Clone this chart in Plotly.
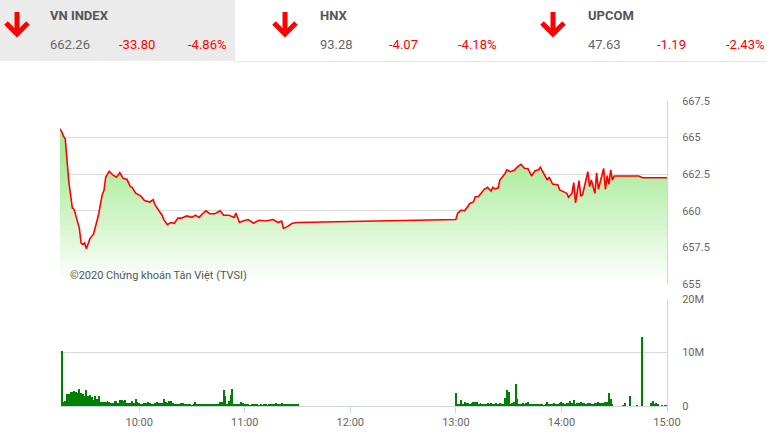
import plotly.graph_objects as go
import pandas as pd

DAY = "2020-03-09 "

# ---------------- price (VN-Index intraday) ----------------
am_times = ["09:15","09:16","09:17","09:18","09:20","09:21","09:22","09:23","09:25","09:26",
            "09:27","09:28","09:29","09:30","09:32","09:34","09:36","09:37","09:39","09:40",
            "09:41","09:43","09:45","09:47","09:49","09:51","09:53","09:55","09:56","09:58",
            "10:01","10:03","10:06","10:08","10:09","10:11","10:13","10:14","10:16","10:18",
            "10:20","10:22","10:24","10:27","10:30","10:32","10:34","10:36","10:38","10:40",
            "10:43","10:46","10:48","10:51","10:54","10:55","10:57","10:59","11:02","11:05",
            "11:08","11:12","11:16","11:19","11:21","11:22","11:24","11:27","11:30"]
am_price = [665.6,665.4,665.1,664.9,662.0,661.0,660.2,660.1,659.3,658.8,
            657.8,657.7,657.8,657.4,658.1,658.4,659.3,659.8,661.1,661.4,
            662.3,662.7,662.45,662.3,662.6,662.2,662.15,661.65,661.6,661.2,
            661.0,660.7,660.6,660.75,660.4,660.05,659.7,659.4,659.05,659.2,
            659.15,659.5,659.5,659.65,659.55,659.7,659.55,659.8,660.0,659.8,
            659.8,660.0,659.7,659.7,659.55,659.85,659.2,659.3,659.4,659.15,
            659.35,659.3,659.4,659.2,659.3,658.8,658.9,659.15,659.2]

pm_times = ["13:00","13:01","13:03","13:05","13:08","13:10","13:11","13:13","13:16","13:18",
            "13:20","13:21","13:22","13:24","13:25","13:27","13:28","13:29","13:31","13:33",
            "13:35","13:37","13:39","13:41","13:43","13:45","13:47","13:48","13:50","13:52",
            "13:53","13:55","13:58","13:59","14:02","14:03","14:04","14:06","14:07","14:08",
            "14:10","14:11","14:12","14:14","14:15","14:16","14:17","14:19","14:20","14:21",
            "14:23","14:24","14:25","14:26","14:27","14:28","14:29","14:30","14:44","14:46",
            "15:00"]
pm_price = [659.4,659.83,660.05,660.0,660.5,660.6,660.95,661.0,661.45,661.6,
            661.35,661.6,661.5,661.55,662.1,662.4,662.55,662.8,662.67,662.75,
            663.0,663.17,662.9,662.88,662.38,662.74,662.8,662.97,662.56,662.1,
            662.3,661.83,661.76,661.42,661.26,661.2,660.92,661.2,661.93,660.55,
            662.06,661.0,661.1,662.15,662.67,661.65,662.1,661.19,662.6,661.47,
            662.45,662.9,661.47,662.4,661.8,662.79,662.1,662.38,662.38,662.26,
            662.26]

# ---------------- volume (millions of shares, one bar per minute) ----------------
vol_am_start = "09:16"
vol_am = [10.2,0.8,1.0,2.3,2.3,2.7,2.7,2.8,2.7,2.5,
          3.2,2.5,2.3,1.9,3.0,1.9,2.1,1.6,1.1,1.9,
          1.3,1.9,0.8,0.8,0.8,0.75,1.0,0.75,0.6,0.6,
          1.0,1.0,0.6,1.1,1.1,1.0,1.1,0.6,0.6,0.6,
          1.0,0.6,1.3,0.8,0.6,0.4,0.4,0.5,0.6,0.8,
          0.6,0.2,0.4,0.5,0.8,0.6,0.6,0.6,1.3,0.8,
          0.6,1.0,1.0,0.6,0.2,0.2,0.4,
          0.38,0.57,0.57,0.25,0.25,0.25,0.25,0.13,0.25,0.76,
          0.25,0.25,0.38,0.25,0.25,0.25,0.25,0.38,0.25,0.25,
          0.25,0.25,0.25,0.76,0.76,3.0,1.8,0.25,0.95,2.1,
          3.2,0.38,0.25,0.38,0.25,0.76,0.57,0.25,0.25,0.38,
          0.13,0.25,0.25,0.38,0.25,0.13,0.25,0.13,0.38,0.25,
          0.13,0.25,0.25,0.25,0.38,0.57,0.38,0.38,0.57,0.38,
          0.38,0.38,0.38,0.25,0.38,0.25,0.38,0.25]

vol_pm_start = "13:00"
vol_pm = [2.47,0.25,0.38,1.14,0.38,0.76,0.63,0.57,0.38,0.57,
          0.76,0.76,0.76,0.25,0.57,0.38,0.38,0.25,0.57,0.25,
          0.57,0.38,0.25,0.57,0.38,0.57,0.25,0.25,1.52,3.04,
          2.66,0.25,0.57,0.76,4.18,1.33,0.38,0.38,0.57,0.25,
          0.57,0.76,0.25,0.38,0.38,0.38,0.38,0.38,0.38,0.38,
          0.13,0.25,0.76,0.38,0.38,0.38,0.57,0.25,0.38,0.57,
          0.76,0.63,0.38,0.5,0.63,0.95,0.63,1.14,0.38,0.63,
          0.63,0.76,0.63,0.5,0.38,0.63,0.5,0.38,0.38,0.5,
          0.63,0.76,0.63,0.5,0.63,0.76,0.76,2.5,1.33,0.25]

vol_tail_times = ["14:35","14:36","14:39","14:43","14:46","14:51","14:52","14:53","14:54","14:55","14:57","14:59","15:00"]
vol_tail = [0.1,0.6,1.8,0.06,12.9,0.5,1.0,0.25,0.5,0.2,0.06,0.06,0.06]

price_ticks = [655, 657.5, 660, 662.5, 665, 667.5]
price_tick_text = ["655", "657.5", "660", "662.5", "665", "667.5"]
vol_ticks = [0, 10, 20]
vol_tick_text = ["0", "10M", "20M"]
hour_ticks = ["10:00", "11:00", "12:00", "13:00", "14:00", "15:00"]

header = [
    ("VN INDEX", "662.26", "-33.80", "-4.86%"),
    ("HNX", "93.28", "-4.07", "-4.18%"),
    ("UPCOM", "47.63", "-1.19", "-2.43%"),
]
copyright_text = "©2020 Chứng khoán Tân Việt (TVSI)"

# ---------------- build ----------------
def ts(t):
    return pd.Timestamp(DAY + t)

price_x = [ts(t) for t in am_times + pm_times]
price_y = am_price + pm_price

vx = list(pd.date_range(ts(vol_am_start), periods=len(vol_am), freq="min")) \
   + list(pd.date_range(ts(vol_pm_start), periods=len(vol_pm), freq="min")) \
   + [ts(t) for t in vol_tail_times]
vy = vol_am + vol_pm + vol_tail

W, H = 767, 438
L, R, T, B = 60, 667, 101, 406

def px(x):
    return (x - L) / (R - L)

def py(y):
    return (B - y) / (B - T)

fig = go.Figure()
fig.add_trace(go.Scatter(
    x=price_x, y=price_y, mode="lines",
    line=dict(color="#ff0000", width=1.6),
    fill="tozeroy",
    fillgradient=dict(type="vertical", start=655, stop=663.3,
                      colorscale=[[0, "rgba(255,255,255,1)"], [1, "rgb(170,235,154)"]]),
    xaxis="x", yaxis="y", hoverinfo="skip", showlegend=False))
fig.add_trace(go.Bar(
    x=vx, y=vy, marker=dict(color="#008000", line=dict(width=0)),
    width=34000, xaxis="x2", yaxis="y2", hoverinfo="skip", showlegend=False))

xr = [ts("09:15"), ts("15:00")]
split = (B - 284) / (B - T)
vtop = (B - 299) / (B - T)

fig.update_layout(
    width=W, height=H,
    margin=dict(l=L, r=W - R, t=T, b=H - B, autoexpand=False),
    paper_bgcolor="white", plot_bgcolor="white",
    font=dict(family="Roboto", color="#666666", size=11),
    bargap=0,
    xaxis=dict(domain=[0, 1], range=xr, anchor="y", showticklabels=False,
               showgrid=False, zeroline=False, showline=False, type="date",
               automargin=False),
    yaxis=dict(domain=[split, 1], range=[655, 667.5], side="right",
               tickvals=price_ticks, ticktext=price_tick_text,
               gridcolor="#d9d9d9", gridwidth=1, zeroline=False,
               showline=True, linecolor="#ccd6eb", linewidth=1,
               ticks="", ticklabelstandoff=12, automargin=False),
    xaxis2=dict(domain=[0, 1], range=xr, anchor="y2", type="date",
                tickvals=[ts(t) for t in hour_ticks], ticktext=hour_ticks,
                showgrid=False, zeroline=False, showline=True,
                linecolor="#ccd6eb", linewidth=1,
                ticks="outside", ticklen=6, tickcolor="#ccd6eb", tickwidth=1,
                automargin=False),
    yaxis2=dict(domain=[0, vtop], range=[0, 20], side="right",
                tickvals=vol_ticks, ticktext=vol_tick_text,
                gridcolor="#d9d9d9", gridwidth=1, zeroline=False,
                showline=True, linecolor="#ccd6eb", linewidth=1,
                ticks="", ticklabelstandoff=12, automargin=False),
)

shapes = [
    dict(type="rect", xref="paper", yref="paper", x0=px(0), x1=px(235), y0=py(61), y1=py(0),
         fillcolor="#ebebeb", line=dict(width=0), layer="below"),
    dict(type="line", xref="paper", yref="paper", x0=px(235), x1=px(767), y0=py(61.5), y1=py(61.5),
         line=dict(color="#e6e6e6", width=1)),
]
arrow_x = [17, 285, 553]
for ax in arrow_x:
    shapes.append(dict(type="path", xref="paper", yref="paper",
                       path=f"M {px(ax)},{py(12)} L {px(ax)},{py(33)}",
                       line=dict(color="#ff0000", width=5)))
    shapes.append(dict(type="path", xref="paper", yref="paper",
                       path=f"M {px(ax-11)},{py(23)} L {px(ax)},{py(34)} L {px(ax+11)},{py(23)}",
                       line=dict(color="#ff0000", width=5)))
fig.update_layout(shapes=shapes)

ann = []
name_x = [48, 318, 586]
val_x = [(48, 117, 186), (318, 387, 456), (586, 655, 724)]
for (name, v, ch, pct), nx, (x1, x2, x3) in zip(header, name_x, val_x):
    ann.append(dict(text=f"<b>{name}</b>", x=px(nx), y=py(16), xref="paper", yref="paper",
                    xanchor="left", yanchor="middle", showarrow=False,
                    font=dict(family="Roboto", size=13, color="#555555")))
    ann.append(dict(text=v, x=px(x1), y=py(44), xref="paper", yref="paper",
                    xanchor="left", yanchor="middle", showarrow=False,
                    font=dict(family="Roboto", size=13, color="#666666")))
    for txt, xx in ((ch, x2), (pct, x3)):
        ann.append(dict(text=txt, x=px(xx), y=py(44), xref="paper", yref="paper",
                        xanchor="left", yanchor="middle", showarrow=False,
                        font=dict(family="Roboto", size=13, color="#ff0000")))
ann.append(dict(text=copyright_text, x=px(68), y=py(275), xref="paper", yref="paper",
                xanchor="left", yanchor="middle", showarrow=False,
                font=dict(family="Roboto", size=11, color="#555555")))
fig.update_layout(annotations=ann)

fig.write_html("out.html", config={"displayModeBar": False},
               post_script="document.body.style.margin='0';document.body.style.overflow='hidden';")
